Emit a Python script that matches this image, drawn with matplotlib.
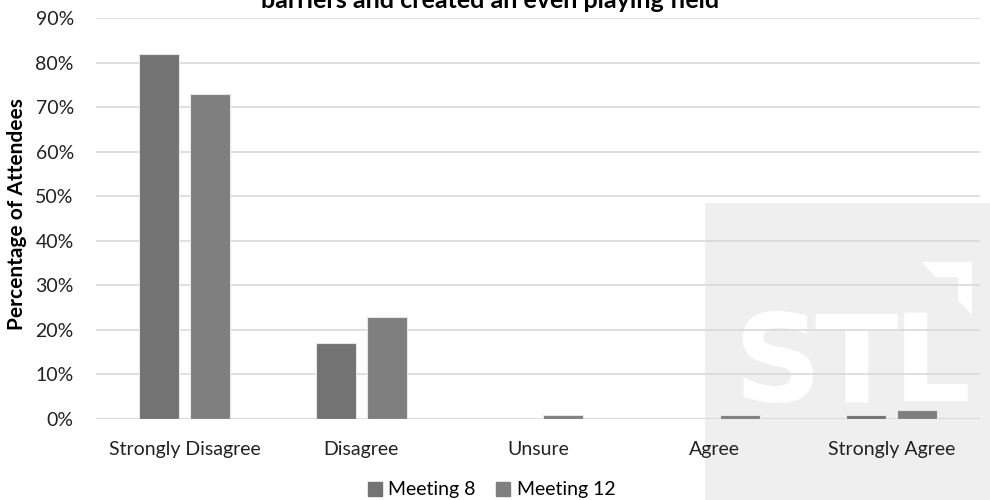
import matplotlib
matplotlib.use("Agg")
import matplotlib.pyplot as plt
from matplotlib.patches import Rectangle, Polygon
from matplotlib.lines import Line2D
import numpy as np

plt.rcParams['font.family'] = ['Lato', 'DejaVu Sans']

categories = ["Strongly Disagree", "Disagree", "Unsure", "Agree", "Strongly Agree"]
meeting8 = [82, 17, 0, 0, 1]
meeting12 = [73, 23, 1, 1, 2]
series_names = ["Meeting 8", "Meeting 12"]
colors = ["#737373", "#7f7f7f"]
title = "barriers and created an even playing field"

fig = plt.figure(figsize=(9.9, 5.0), dpi=100)
W, H = 990, 500

def fx(px):
    return px / W

def fy(py):
    return 1 - py / H

# watermark sits behind the axes
fig.patches.append(Rectangle((fx(705), 0), 1 - fx(705), fy(203), transform=fig.transFigure,
                             facecolor="#efefef", edgecolor="none", zorder=-10))
for letter, px, ha in [("S", 777, "center"), ("T", 856, "center"), ("L", 893, "left")]:
    fig.text(fx(px), fy(401), letter, color="white", fontsize=88, fontweight="bold",
             ha=ha, va="baseline", family="DejaVu Sans", zorder=-9)
corner = [(922, 262), (972, 262), (972, 315), (958, 300), (958, 277), (935, 277)]
fig.patches.append(Polygon([(fx(a), fy(b)) for a, b in corner], closed=True, transform=fig.transFigure,
                           facecolor="white", edgecolor="none", zorder=-9))

ax = fig.add_axes([fx(96), fy(419), fx(980) - fx(96), fy(18) - fy(419)])
ax.set_facecolor("none")

x = np.arange(len(categories))
w = 0.226
off = 0.144
ax.bar(x - off, meeting8, w, color=colors[0], edgecolor="#e6e6e6", linewidth=0.8, zorder=3)
ax.bar(x + off, meeting12, w, color=colors[1], edgecolor="#e6e6e6", linewidth=0.8, zorder=3)

ax.set_xlim(-0.5, len(categories) - 0.5)
ax.set_ylim(0, 90)
ax.set_yticks(range(0, 91, 10))
ax.set_yticklabels([f"{v}%" for v in range(0, 91, 10)], fontsize=14, color="#222222")
ax.set_xticks(x)
ax.set_xticklabels(categories, fontsize=14, color="#222222")
ax.tick_params(axis="y", length=0, pad=16)
ax.tick_params(axis="x", length=0, pad=16)
ax.grid(axis="y", color="#d9d9d9", linewidth=1.2, zorder=0)
for s in ax.spines.values():
    s.set_visible(False)
ax.axhline(0, color="#d9d9d9", linewidth=1.2, zorder=2)

ax.set_ylabel("Percentage of Attendees", fontsize=15, fontweight="bold")
ax.yaxis.set_label_coords(-0.078, 0.51)

handles = [Line2D([0], [0], marker="s", linestyle="none", markersize=10, color=c) for c in colors]
fig.legend(handles, series_names, loc="center", bbox_to_anchor=(fx(491), fy(490)), ncol=2,
           frameon=False, fontsize=14, handlelength=0.8, handletextpad=0.3, columnspacing=1.0,
           borderaxespad=0, borderpad=0)

fig.text(fx(490), fy(8), title, ha="center", va="baseline", fontsize=18, fontweight="bold")

fig.savefig("out.png", dpi=100)
